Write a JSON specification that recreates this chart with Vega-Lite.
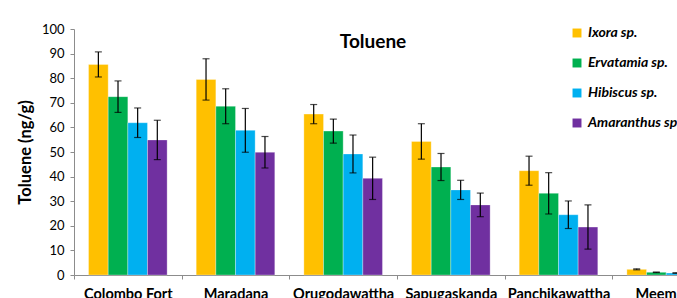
{
  "$schema": "https://vega.github.io/schema/vega-lite/v6.json",
  "width": 646,
  "height": 246,
  "padding": {"left": 17, "top": 23, "right": 0, "bottom": 0},
  "autosize": {"type": "pad"},
  "background": "white",
  "title": {"text": "Toluene", "font": "Lato", "fontSize": 19, "fontWeight": "bold", "color": "black", "anchor": "middle", "offset": -29, "dx": -24},
  "data": {"values": [
    {"site": "Colombo Fort", "species": "Ixora sp.", "value": 85.6, "err": 5.1},
    {"site": "Colombo Fort", "species": "Ervatamia sp.", "value": 72.5, "err": 6.4},
    {"site": "Colombo Fort", "species": "Hibiscus sp.", "value": 61.9, "err": 6.0},
    {"site": "Colombo Fort", "species": "Amaranthus sp.", "value": 54.9, "err": 8.0},
    {"site": "Maradana", "species": "Ixora sp.", "value": 79.5, "err": 8.4},
    {"site": "Maradana", "species": "Ervatamia sp.", "value": 68.6, "err": 7.1},
    {"site": "Maradana", "species": "Hibiscus sp.", "value": 58.8, "err": 8.9},
    {"site": "Maradana", "species": "Amaranthus sp.", "value": 49.9, "err": 6.4},
    {"site": "Orugodawattha", "species": "Ixora sp.", "value": 65.4, "err": 3.9},
    {"site": "Orugodawattha", "species": "Ervatamia sp.", "value": 58.5, "err": 4.9},
    {"site": "Orugodawattha", "species": "Hibiscus sp.", "value": 49.2, "err": 7.7},
    {"site": "Orugodawattha", "species": "Amaranthus sp.", "value": 39.3, "err": 8.6},
    {"site": "Sapugaskanda", "species": "Ixora sp.", "value": 54.3, "err": 7.2},
    {"site": "Sapugaskanda", "species": "Ervatamia sp.", "value": 43.9, "err": 5.5},
    {"site": "Sapugaskanda", "species": "Hibiscus sp.", "value": 34.6, "err": 3.9},
    {"site": "Sapugaskanda", "species": "Amaranthus sp.", "value": 28.5, "err": 4.8},
    {"site": "Panchikawattha", "species": "Ixora sp.", "value": 42.4, "err": 5.9},
    {"site": "Panchikawattha", "species": "Ervatamia sp.", "value": 33.2, "err": 8.4},
    {"site": "Panchikawattha", "species": "Hibiscus sp.", "value": 24.5, "err": 5.6},
    {"site": "Panchikawattha", "species": "Amaranthus sp.", "value": 19.5, "err": 9.0},
    {"site": "Meemure", "species": "Ixora sp.", "value": 2.3, "err": 0.2},
    {"site": "Meemure", "species": "Ervatamia sp.", "value": 1.1, "err": 0.1},
    {"site": "Meemure", "species": "Hibiscus sp.", "value": 0.8, "err": 0.1},
    {"site": "Meemure", "species": "Amaranthus sp.", "value": 0.6, "err": 0.1}
  ]},
  "transform": [
    {"calculate": "datum.value - datum.err", "as": "lo"},
    {"calculate": "datum.value + datum.err", "as": "hi"}
  ],
  "encoding": {
    "x": {
      "field": "site", "type": "nominal", "sort": null,
      "scale": {"paddingInner": 0, "paddingOuter": 0},
      "axis": {"title": null, "labelAngle": 0, "labelFont": "Lato", "labelFontSize": 14.5, "labelFontWeight": "bold", "labelColor": "black", "tickBand": "extent", "tickSize": 4, "labelPadding": 8, "domainColor": "#8c8c8c", "tickColor": "#8c8c8c", "labelOverlap": false}
    },
    "xOffset": {
      "field": "species", "type": "nominal", "sort": ["Ixora sp.", "Ervatamia sp.", "Hibiscus sp.", "Amaranthus sp."],
      "scale": {"paddingInner": 0, "paddingOuter": 0.74}
    }
  },
  "layer": [
    {
      "mark": {"type": "bar", "stroke": "white", "strokeWidth": 0.5, "strokeOpacity": 0.6},
      "encoding": {
        "y": {
          "field": "value", "type": "quantitative",
          "scale": {"domain": [0, 100], "nice": false},
          "axis": {"title": "Toluene (ng/g)", "values": [0, 10, 20, 30, 40, 50, 60, 70, 80, 90, 100]}
        },
        "color": {
          "field": "species", "type": "nominal",
          "scale": {"domain": ["Ixora sp.", "Ervatamia sp.", "Hibiscus sp.", "Amaranthus sp."], "range": ["#FFC000", "#00B050", "#00B0F0", "#7030A0"]},
          "legend": {"title": null, "orient": "none", "legendX": 496, "legendY": -3, "symbolType": "square", "symbolSize": 80, "symbolStrokeWidth": 0, "symbolOpacity": 1, "labelFont": "Lato", "labelFontSize": 14, "labelFontWeight": "bold", "labelFontStyle": "italic", "labelColor": "black", "rowPadding": 16, "labelOffset": 4, "labelLimit": 300}
        }
      }
    },
    {
      "mark": {"type": "rule", "color": "black", "strokeWidth": 1.2},
      "encoding": {
        "y": {"field": "lo", "type": "quantitative", "axis": {"title": "Toluene (ng/g)", "values": [0, 10, 20, 30, 40, 50, 60, 70, 80, 90, 100]}},
        "y2": {"field": "hi"}
      }
    },
    {
      "mark": {"type": "tick", "color": "black", "size": 7, "thickness": 1.2},
      "encoding": {"y": {"field": "lo", "type": "quantitative", "axis": {"title": "Toluene (ng/g)", "values": [0, 10, 20, 30, 40, 50, 60, 70, 80, 90, 100]}}}
    },
    {
      "mark": {"type": "tick", "color": "black", "size": 7, "thickness": 1.2},
      "encoding": {"y": {"field": "hi", "type": "quantitative", "axis": {"title": "Toluene (ng/g)", "values": [0, 10, 20, 30, 40, 50, 60, 70, 80, 90, 100]}}}
    }
  ],
  "config": {
    "view": {"stroke": null},
    "axisY": {"titleFont": "Lato", "titleFontSize": 16.5, "titleFontWeight": "bold", "titleColor": "black", "titlePadding": 8, "labelOverlap": false, "grid": false, "labelFont": "Lato", "labelFontSize": 13, "labelColor": "black", "tickSize": 4, "labelPadding": 6, "domainColor": "#8c8c8c", "tickColor": "#8c8c8c"}
  }
}
